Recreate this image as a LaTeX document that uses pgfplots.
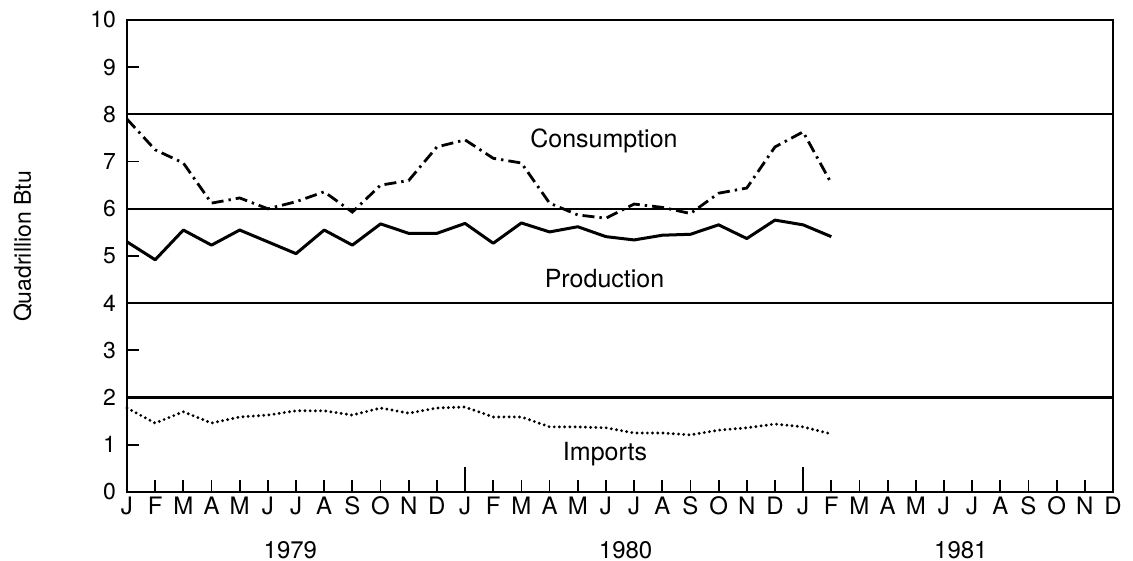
\documentclass[border=0pt]{standalone}
\usepackage{fontspec}
\setmainfont{TeX Gyre Heros}
\usepackage{pgfplots}
\pgfplotsset{compat=1.18}
\begin{document}
\begin{tikzpicture}
\useasboundingbox (-63.5pt,-34.5pt) rectangle (503pt,246pt);
\begin{axis}[
 at={(0,0)}, anchor=south west,
 scale only axis, width=493pt, height=236pt,
 xmin=0, xmax=35, ymin=0, ymax=10,
 clip=false,
 axis line style={line width=1.1pt},
 xtick={0,...,35},
 xticklabels={J,F,M,A,M,J,J,A,S,O,N,D,J,F,M,A,M,J,J,A,S,O,N,D,J,F,M,A,M,J,J,A,S,O,N,D},
 xtick pos=left, ytick pos=left,
 tick align=inside,
 major tick length=6pt,
 tick style={line width=0.9pt, black},
 ytick={0,...,10},
 extra y ticks={2,4,6,8}, extra y tick labels={},
 extra y tick style={ymajorgrids=true, major grid style={line width=1.1pt, black}},
 extra x ticks={12,24}, extra x tick labels={},
 extra x tick style={major tick length=12.5pt},
 /pgf/number format/assume math mode=true,
 yticklabel style={font=\fontsize{11.5}{13}\selectfont, xshift=-2pt},
 xticklabel style={font=\fontsize{12}{14}\selectfont, yshift=1pt},
 ylabel={Quadrillion Btu},
 ylabel style={at={(axis description cs:-0.1055,0.52)}, anchor=center, font=\fontsize{11.5}{13}\selectfont},
]
\addplot[black, line width=1.4pt, dash pattern=on 6pt off 2.5pt on 1.2pt off 2.5pt] coordinates {
(0,7.9) (1,7.25) (2,6.97) (3,6.12) (4,6.23) (5,6.0) (6,6.15) (7,6.36) (8,5.93) (9,6.5)
(10,6.6) (11,7.31) (12,7.46) (13,7.07) (14,6.97) (15,6.12) (16,5.87) (17,5.8) (18,6.1) (19,6.03)
(20,5.9) (21,6.33) (22,6.44) (23,7.31) (24,7.63) (25,6.54)};
\addplot[black, line width=1.5pt, line join=round] coordinates {
(0,5.3) (1,4.92) (2,5.55) (3,5.23) (4,5.55) (5,5.3) (6,5.05) (7,5.55) (8,5.23) (9,5.68)
(10,5.48) (11,5.48) (12,5.69) (13,5.27) (14,5.7) (15,5.51) (16,5.62) (17,5.41) (18,5.34) (19,5.44)
(20,5.46) (21,5.66) (22,5.37) (23,5.76) (24,5.66) (25,5.41)};
\addplot[black, line width=1.6pt, line cap=round, dash pattern=on 0pt off 2.6pt] coordinates {
(0,1.78) (1,1.46) (2,1.7) (3,1.46) (4,1.59) (5,1.63) (6,1.72) (7,1.72) (8,1.63) (9,1.78)
(10,1.67) (11,1.78) (12,1.8) (13,1.59) (14,1.59) (15,1.38) (16,1.38) (17,1.36) (18,1.25) (19,1.25)
(20,1.21) (21,1.31) (22,1.36) (23,1.44) (24,1.38) (25,1.23)};
\node[font=\fontsize{12.5}{14}\selectfont] at (axis cs:16.93,7.44) {Consumption};
\node[font=\fontsize{12.5}{14}\selectfont] at (axis cs:16.95,4.53) {Production};
\node[font=\fontsize{12.5}{14}\selectfont] at (axis cs:16.97,0.8) {Imports};
\node[font=\fontsize{12}{14}\selectfont] at (axis cs:5.8,0) [yshift=-29pt] {1979};
\node[font=\fontsize{12}{14}\selectfont] at (axis cs:17.7,0) [yshift=-29pt] {1980};
\node[font=\fontsize{12}{14}\selectfont] at (axis cs:29.6,0) [yshift=-29pt] {1981};
\end{axis}
\end{tikzpicture}
\end{document}
